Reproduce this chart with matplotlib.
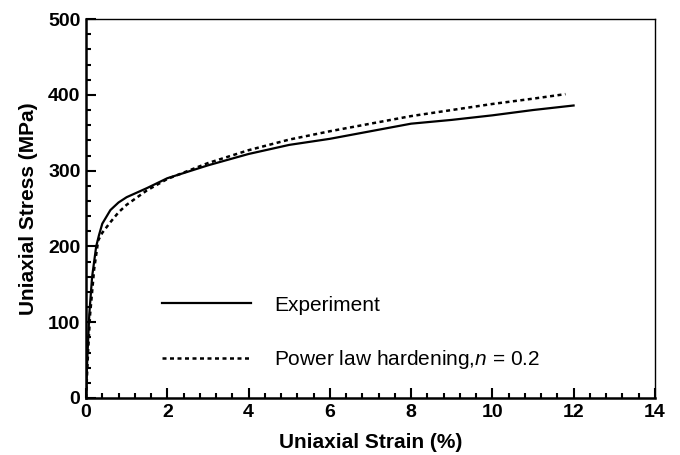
import numpy as np
import matplotlib.pyplot as plt
from matplotlib.ticker import MultipleLocator

plt.rcParams['font.family'] = 'Liberation Sans'
plt.rcParams['mathtext.fontset'] = 'custom'
plt.rcParams['mathtext.it'] = 'Liberation Sans:italic'
plt.rcParams['mathtext.rm'] = 'Liberation Sans'

# experiment curve (strain %, stress MPa)
exp_strain = [0, 0.03, 0.08, 0.15, 0.25, 0.32, 0.4, 0.6, 0.8, 1.0, 1.5, 2.0, 3.0, 4.0, 5.0, 6.0, 7.0, 8.0, 9.0, 10.0, 11.0, 12.0]
exp_stress = [0, 50, 110, 160, 200, 215, 230, 248, 258, 265, 277, 290, 307, 322, 334, 342, 352, 362, 367, 373, 380, 386]

# power law fit
pl_strain = [0, 0.05, 0.1, 0.2, 0.3, 0.4, 0.6, 0.8, 1.0, 1.5, 2.0, 3.0, 4.0, 5.0, 6.0, 7.0, 8.0, 9.0, 10.0, 11.0, 11.8]
pl_stress = [0, 60, 110, 170, 208, 218, 232, 245, 255, 274, 289, 310, 327, 341, 352, 362, 372, 380, 388, 395, 401]

fig = plt.figure(figsize=(6.8, 4.55), dpi=100)
ax = fig.add_axes([0.1265, 0.1253, 0.8365, 0.8327])

ax.plot(exp_strain, exp_stress, color='black', lw=1.6, label='Experiment')
ax.plot(pl_strain, pl_stress, color='black', lw=1.8, linestyle=(0, (1.6, 1.4)),
        label='Power law hardening,$n$ = 0.2')

ax.set_xlim(0, 14)
ax.set_ylim(0, 500)
ax.xaxis.set_major_locator(MultipleLocator(2))
ax.xaxis.set_minor_locator(MultipleLocator(0.4))
ax.yaxis.set_major_locator(MultipleLocator(100))
ax.yaxis.set_minor_locator(MultipleLocator(20))
ax.tick_params(which='both', direction='in', top=False, right=False, width=1.5)
ax.tick_params(which='major', length=7, labelsize=14, pad=4)
ax.tick_params(which='minor', length=3.5)
for lab in ax.get_xticklabels() + ax.get_yticklabels():
    lab.set_fontweight('bold')
for s in ax.spines.values():
    s.set_linewidth(1.0)
ax.spines['left'].set_linewidth(1.8)
ax.spines['bottom'].set_linewidth(1.8)

ax.set_xlabel('Uniaxial Strain (%)', fontsize=15, fontweight='bold', labelpad=9)
ax.set_ylabel('Uniaxial Stress (MPa)', fontsize=15, fontweight='bold', labelpad=7)

ax.legend(loc='lower left', bbox_to_anchor=(0.1, 0.022), frameon=False, fontsize=15,
          handlelength=4.3, handletextpad=1.1, labelspacing=1.6)

fig.savefig('out.png', dpi=100)
